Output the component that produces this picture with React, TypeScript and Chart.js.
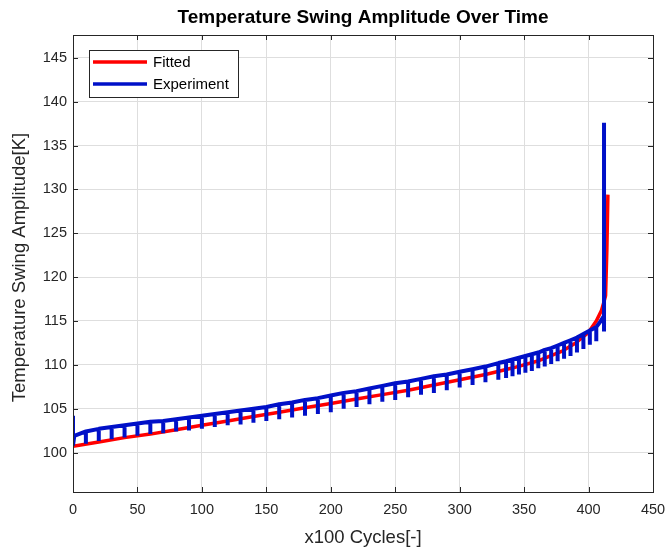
import React, { useEffect, useRef } from "react";
import { Chart, registerables } from "chart.js";

Chart.register(...registerables);

const chartTitle = "Temperature Swing Amplitude Over Time";
const xAxisTitle = "x100 Cycles[-]";
const yAxisTitle = "Temperature Swing Amplitude[K]";
const seriesNames = ["Fitted", "Experiment"];

const xTickValues = [0, 50, 100, 150, 200, 250, 300, 350, 400, 450];
const yTickValues = [100, 105, 110, 115, 120, 125, 130, 135, 140, 145];

// Fitted curve
const fitCycles = [0, 20, 40, 60, 80, 100, 120, 140, 160, 180, 200, 220, 240, 260, 280, 300, 320, 340, 360, 380, 390, 400, 406, 410, 412, 413.2, 414.2, 415];
const fitValues = [100.7, 101.2, 101.7, 102.1, 102.6, 103.1, 103.6, 104.1, 104.6, 105.1, 105.6, 106.1, 106.6, 107.1, 107.7, 108.3, 108.9, 109.6, 110.4, 111.6, 112.5, 113.7, 115.0, 116.2, 117.2, 117.9, 123.1, 129.4];

// Experiment: start, teeth (top then dip), end spike
const expStartCycles = [0, 0, 1];
const expStartValues = [104.2, 100.8, 101.9];
const toothCycles = [10, 20, 30, 40, 50, 60, 70, 80, 90, 100, 110, 120, 130, 140, 150, 160, 170, 180, 190, 200, 210, 220, 230, 240, 250, 260, 270, 280, 290, 300, 310, 320, 330, 336, 341, 346, 351, 356, 361, 366, 371, 376, 381, 386, 391, 396, 401, 406];
const toothTop = [102.4, 102.7, 102.9, 103.1, 103.3, 103.5, 103.6, 103.8, 104.0, 104.2, 104.4, 104.6, 104.8, 105.0, 105.2, 105.5, 105.7, 106.0, 106.2, 106.5, 106.8, 107.0, 107.3, 107.6, 107.9, 108.1, 108.4, 108.7, 108.9, 109.2, 109.5, 109.8, 110.2, 110.4, 110.6, 110.8, 111.0, 111.2, 111.4, 111.7, 111.9, 112.2, 112.5, 112.8, 113.1, 113.5, 113.9, 114.3];
const toothDip = [101.0, 101.3, 101.5, 101.7, 101.9, 102.1, 102.2, 102.4, 102.5, 102.7, 102.9, 103.1, 103.2, 103.4, 103.6, 103.8, 104.0, 104.2, 104.4, 104.6, 105.0, 105.2, 105.5, 105.8, 106.0, 106.3, 106.6, 106.8, 107.1, 107.4, 107.7, 108.0, 108.3, 108.5, 108.7, 108.9, 109.1, 109.3, 109.6, 109.8, 110.1, 110.4, 110.7, 111.0, 111.4, 111.8, 112.3, 112.7];
const expEndCycles = [409, 412, 412, 412];
const expEndValues = [114.9, 115.6, 137.6, 113.8];

const RED = "#ff0000";
const BLUE = "#0010c8";
const AXIS = "#262626";
const FONT = "'Liberation Sans', Arial, sans-serif";

export default function App() {
  const ref = useRef<HTMLCanvasElement | null>(null);

  useEffect(() => {
    document.body.style.margin = "0";
    const canvas = ref.current;
    if (!canvas) return;

    const fitData = fitCycles.map((x, i) => ({ x, y: fitValues[i] }));
    const expData: { x: number; y: number }[] = [];
    expStartCycles.forEach((x, i) => expData.push({ x, y: expStartValues[i] }));
    toothCycles.forEach((x, i) => {
      expData.push({ x, y: toothTop[i] });
      expData.push({ x, y: toothDip[i] });
      expData.push({ x, y: toothTop[i] });
    });
    expEndCycles.forEach((x, i) => expData.push({ x, y: expEndValues[i] }));

    const decor = {
      id: "decor",
      afterDraw(chart: any) {
        const { ctx, chartArea: a, scales } = chart;
        ctx.save();
        // box
        ctx.strokeStyle = AXIS;
        ctx.lineWidth = 1;
        ctx.strokeRect(Math.round(a.left) + 0.5, Math.round(a.top) + 0.5, Math.round(a.right - a.left), Math.round(a.bottom - a.top));
        // inner tick marks
        const tl = 5;
        ctx.beginPath();
        xTickValues.forEach((v) => {
          const px = Math.round(scales.x.getPixelForValue(v)) + 0.5;
          ctx.moveTo(px, a.bottom);
          ctx.lineTo(px, a.bottom - tl);
          ctx.moveTo(px, a.top);
          ctx.lineTo(px, a.top + tl);
        });
        yTickValues.forEach((v) => {
          const py = Math.round(scales.y.getPixelForValue(v)) + 0.5;
          ctx.moveTo(a.left, py);
          ctx.lineTo(a.left + tl, py);
          ctx.moveTo(a.right, py);
          ctx.lineTo(a.right - tl, py);
        });
        ctx.stroke();

        const cx = (a.left + a.right) / 2;
        // title
        ctx.fillStyle = "#000";
        ctx.font = `bold 19px ${FONT}`;
        ctx.textAlign = "center";
        ctx.textBaseline = "middle";
        ctx.fillText(chartTitle, cx, 18);
        // x title
        ctx.fillStyle = AXIS;
        ctx.font = `18.5px ${FONT}`;
        ctx.fillText(xAxisTitle, cx, 538);
        // y title
        ctx.save();
        ctx.translate(20, (a.top + a.bottom) / 2 + 4);
        ctx.rotate(-Math.PI / 2);
        ctx.fillText(yAxisTitle, 0, 0);
        ctx.restore();

        // legend
        const lx = 89, ly = 50, lw = 149, lh = 47;
        ctx.fillStyle = "#fff";
        ctx.fillRect(lx + 0.5, ly + 0.5, lw, lh);
        ctx.strokeStyle = AXIS;
        ctx.lineWidth = 1;
        ctx.strokeRect(lx + 0.5, ly + 0.5, lw, lh);
        const rows = [
          { name: seriesNames[0], color: RED, y: 62 },
          { name: seriesNames[1], color: BLUE, y: 84 },
        ];
        rows.forEach((r) => {
          ctx.strokeStyle = r.color;
          ctx.lineWidth = 3.5;
          ctx.beginPath();
          ctx.moveTo(93, r.y);
          ctx.lineTo(147, r.y);
          ctx.stroke();
          ctx.fillStyle = "#000";
          ctx.font = `15px ${FONT}`;
          ctx.textAlign = "left";
          ctx.textBaseline = "middle";
          ctx.fillText(r.name, 153, r.y + 1);
        });
        ctx.restore();
      },
    };

    const chart = new Chart(canvas, {
      type: "line",
      data: {
        datasets: [
          {
            label: seriesNames[0],
            data: fitData,
            borderColor: RED,
            backgroundColor: RED,
            borderWidth: 3.5,
            pointRadius: 0,
            tension: 0,
            order: 1,
            borderJoinStyle: "round",
          },
          {
            label: seriesNames[1],
            data: expData,
            borderColor: BLUE,
            backgroundColor: BLUE,
            borderWidth: 4,
            pointRadius: 0,
            tension: 0,
            order: 0,
            borderJoinStyle: "bevel",
          },
        ],
      },
      options: {
        responsive: false,
        animation: false,
        devicePixelRatio: 1,
        layout: { padding: { top: 35, right: 14, left: 0, bottom: 0 } },
        plugins: { legend: { display: false }, title: { display: false }, tooltip: { enabled: false } },
        scales: {
          x: {
            type: "linear",
            min: 0,
            max: 450,
            afterBuildTicks: (s: any) => {
              s.ticks = xTickValues.map((value) => ({ value }));
            },
            afterFit: (s: any) => {
              s.height = 57;
              s.paddingLeft = 0;
              s.paddingRight = 0;
            },
            grid: { color: "#dedede", lineWidth: 1, drawTicks: false },
            border: { display: false },
            ticks: { color: AXIS, font: { family: FONT, size: 14.5 }, padding: 9, maxRotation: 0 },
          },
          y: {
            type: "linear",
            min: 95.5,
            max: 147.6,
            afterBuildTicks: (s: any) => {
              s.ticks = yTickValues.map((value) => ({ value }));
            },
            afterFit: (s: any) => {
              s.width = 73;
              s.paddingTop = 0;
              s.paddingBottom = 0;
            },
            grid: { color: "#dedede", lineWidth: 1, drawTicks: false },
            border: { display: false },
            ticks: { color: AXIS, font: { family: FONT, size: 14.5 }, padding: 6 },
          },
        },
      },
      plugins: [decor],
    } as any);

    return () => chart.destroy();
  }, []);

  return (
    <div style={{ width: 667, height: 549 }}>
      <canvas ref={ref} width={667} height={549} style={{ display: "block" }} />
    </div>
  );
}
